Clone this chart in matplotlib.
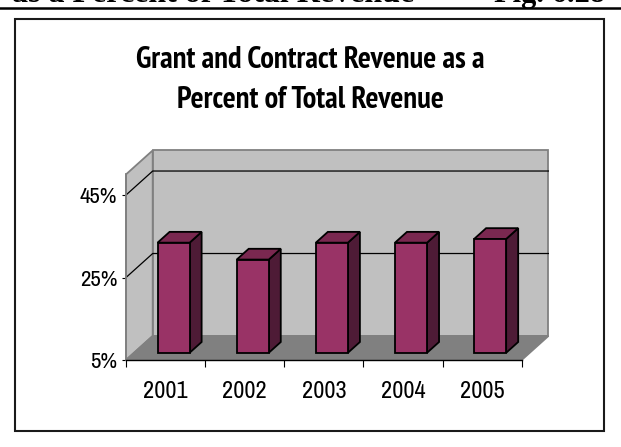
import matplotlib
matplotlib.use("Agg")
import matplotlib.pyplot as plt
from matplotlib import font_manager as fm
from matplotlib.patches import Polygon, Rectangle
from matplotlib.lines import Line2D

# grant and contract revenue, percent of total revenue
years = ["2001", "2002", "2003", "2004", "2005"]
pct = [31.7, 27.6, 31.7, 31.7, 32.6]
yticks = [5, 25, 45]
ymin, ymax = 5, 50

W, H = 621, 447
serif = ["Liberation Serif", "DejaVu Serif"]


def as_weight(w):
    return w if isinstance(w, int) else fm.weight_dict.get(w, 400)


# look for an Arial Narrow lookalike, bold and regular
weights = {}
for f in fm.fontManager.ttflist:
    if "narrow" in f.name.lower() and f.style == "normal":
        weights.setdefault(f.name, set()).add(as_weight(f.weight))
regular_ok = sorted(n for n, ws in weights.items() if any(w <= 500 for w in ws))
bold_ok = sorted(n for n, ws in weights.items() if any(w >= 600 for w in ws))

if regular_ok:
    tick_font = [regular_ok[0], "Liberation Sans"]
    xlab_size, ylab_size = 17.5, 16.5
else:
    tick_font = ["Liberation Sans", "DejaVu Sans"]
    xlab_size, ylab_size = 15.5, 14.5
if bold_ok:
    title_font = [bold_ok[0], "Liberation Sans"]
    title_size = 22
else:
    title_font = ["Liberation Sans", "DejaVu Sans"]
    title_size = 17

plum = "#993366"
plum_top = "#7a2850"
plum_side = "#4e1b36"
wall = "#c0c0c0"
floor_c = "#808080"
edge = "#808080"


def fx(px):
    return px / W


def fy(py):
    return 1 - py / H


fig = plt.figure(figsize=(W / 100, H / 100), dpi=100)

# page header (runs off the top) and rule
fig.text(fx(12), fy(2.2), "as a Percent of Total Revenue", family=serif,
         fontweight="bold", fontsize=23, ha="left", va="baseline")
fig.text(fx(605), fy(2.2), "Fig. 6.28", family=serif,
         fontweight="bold", fontsize=22, ha="right", va="baseline")
fig.add_artist(Line2D([0, 1], [fy(7.9), fy(7.9)], color="black", lw=1.8))

# frame around the chart
fig.add_artist(Rectangle((fx(15), fy(431)), fx(604) - fx(15), fy(19) - fy(431),
                         fill=False, edgecolor="#1a1a1a", lw=1.5))

fig.text(fx(310), fy(67.7), "Grant and Contract Revenue as a", family=title_font,
         fontweight="bold", fontsize=title_size, ha="center", va="baseline")
fig.text(fx(310), fy(107.7), "Percent of Total Revenue", family=title_font,
         fontweight="bold", fontsize=title_size, ha="center", va="baseline")

# front plane of the 3-D chart
ax = fig.add_axes([fx(126), fy(360), fx(521.7) - fx(126), fy(174.4) - fy(360)])
n = len(years)
ax.set_xlim(0, n)
ax.set_ylim(ymin, ymax)
ax.patch.set_visible(False)

# depth offset of the back wall in data units
ddx = 26.7 / (395.7 / n)
ddy = 24.0 / (185.6 / (ymax - ymin))

left_wall = [(0, ymin), (0, ymax), (ddx, ymax + ddy), (ddx, ymin + ddy)]
back_wall = [(ddx, ymin + ddy), (ddx, ymax + ddy), (n + ddx, ymax + ddy), (n + ddx, ymin + ddy)]
floor = [(0, ymin), (n, ymin), (n + ddx, ymin + ddy), (ddx, ymin + ddy)]
for pts, fc in [(left_wall, wall), (back_wall, wall), (floor, floor_c)]:
    ax.add_patch(Polygon(pts, closed=True, facecolor=fc, edgecolor=edge,
                         lw=1.3, clip_on=False, zorder=1))

for v in yticks[1:]:
    ax.plot([0, ddx, n + ddx], [v, v + ddy, v + ddy], color="black", lw=0.9,
            clip_on=False, zorder=2)

# bars sit partway into the depth
t0, t1 = 0.30, 0.75
bw = 0.405
for i, v in enumerate(pct):
    xl = i + 0.5 - bw / 2
    xr = i + 0.5 + bw / 2
    a = (t0 * ddx, t0 * ddy)
    b = (t1 * ddx, t1 * ddy)
    side = [(xr + a[0], ymin + a[1]), (xr + b[0], ymin + b[1]),
            (xr + b[0], v + b[1]), (xr + a[0], v + a[1])]
    top = [(xl + a[0], v + a[1]), (xr + a[0], v + a[1]),
           (xr + b[0], v + b[1]), (xl + b[0], v + b[1])]
    front = [(xl + a[0], ymin + a[1]), (xr + a[0], ymin + a[1]),
             (xr + a[0], v + a[1]), (xl + a[0], v + a[1])]
    for pts, fc in [(side, plum_side), (top, plum_top), (front, plum)]:
        ax.add_patch(Polygon(pts, closed=True, facecolor=fc, edgecolor="black",
                             lw=1.3, joinstyle="miter", clip_on=False, zorder=3))

for s in ["top", "right"]:
    ax.spines[s].set_visible(False)
ax.spines["left"].set_color(edge)
ax.spines["left"].set_linewidth(1.3)
ax.spines["bottom"].set_color("black")
ax.spines["bottom"].set_linewidth(1.0)
ax.spines["bottom"].set_zorder(4)

ax.set_yticks(yticks)
ax.set_yticklabels([f"{t}%" for t in yticks], family=tick_font, fontsize=ylab_size)
ax.tick_params(axis="y", length=3.2, width=0.8, pad=3, color="black")

ax.set_xticks(range(n + 1))
ax.set_xticklabels([])
ax.set_xticks([i + 0.5 for i in range(n)], minor=True)
ax.set_xticklabels(years, minor=True, family=tick_font, fontsize=xlab_size)
ax.tick_params(axis="x", which="major", length=5, width=0.8, color="black")
ax.tick_params(axis="x", which="minor", length=0, pad=15)

fig.savefig("out.png", dpi=100)
